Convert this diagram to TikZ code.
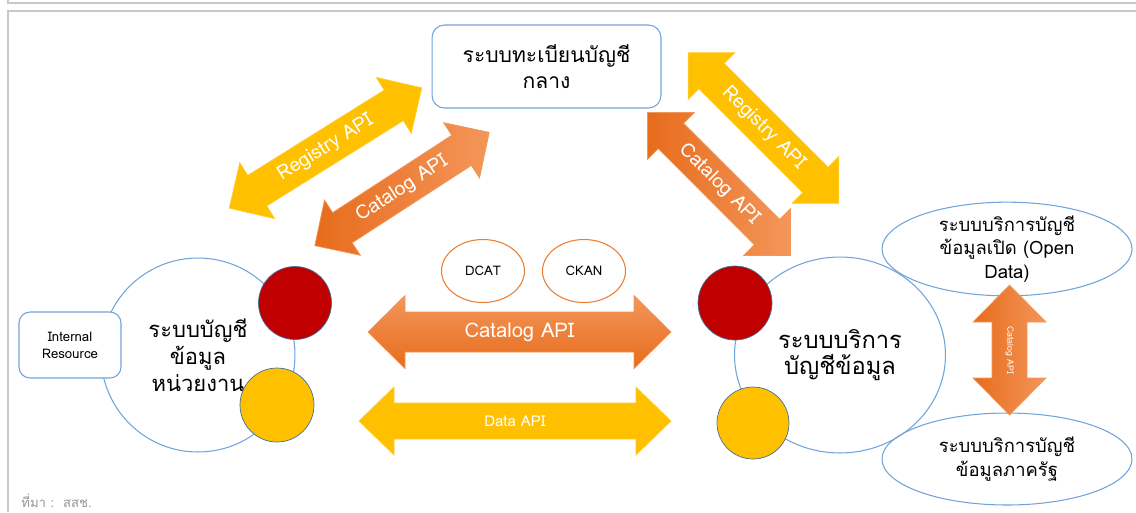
\documentclass[tikz,border=0pt]{standalone}
\usepackage{fontspec}
\setmainfont{Loma}[Script=Thai]
\usepackage{tikz}
\usetikzlibrary{shapes.geometric,positioning}
\definecolor{lineblue}{RGB}{112,163,217}
\definecolor{apiyellow}{RGB}{255,192,0}
\definecolor{apiorange}{RGB}{237,125,49}
\definecolor{orangelight}{RGB}{244,150,90}
\definecolor{orangedark}{RGB}{231,108,28}
\definecolor{dotred}{RGB}{192,0,0}
\definecolor{dotedge}{RGB}{65,113,156}
\definecolor{framegray}{RGB}{200,200,200}
\definecolor{notegray}{RGB}{150,150,150}

% double headed block arrow: center, angle, length, shaft, head, head length, style
\newcommand{\apiarrow}[7]{%
  \begin{scope}[shift={#1}, rotate=#2]
    \path[#7] ({-#3/2},0) -- ({-#3/2+#6},{#5/2}) -- ({-#3/2+#6},{#4/2})
      -- ({#3/2-#6},{#4/2}) -- ({#3/2-#6},{#5/2}) -- ({#3/2},0)
      -- ({#3/2-#6},{-#5/2}) -- ({#3/2-#6},{-#4/2}) -- ({-#3/2+#6},{-#4/2})
      -- ({-#3/2+#6},{-#5/2}) -- cycle;
  \end{scope}}

\begin{document}
\begin{tikzpicture}[x=0.02cm, y=-0.02cm]
    \tikzstyle{sysline}=[draw=lineblue, line width=0.6pt]
    \tikzstyle{sysbox}=[sysline, rectangle, fill=white, align=center]
    \tikzstyle{dot}=[circle, draw=dotedge, line width=0.4pt, inner sep=0pt]
    \tikzstyle{stdoval}=[ellipse, draw=apiorange, line width=0.6pt, inner sep=0pt,
        minimum width=1.66cm, minimum height=1.26cm, font=\fontsize{7.5}{9}\selectfont]
    \tikzstyle{yellowfill}=[fill=apiyellow, draw=apiyellow!80!white, line width=0.4pt]
    \tikzstyle{orangefill}=[draw=apiorange!80!white, line width=0.4pt]
    \tikzstyle{apilabel}=[white, inner sep=0pt]
    \useasboundingbox (0,0) rectangle (1136,512);

    % --- page frame ---
    \draw[framegray, line width=0.9pt] (8,0) -- (8,3) -- (1136,3);
    \draw[framegray, line width=0.9pt] (1136,11) -- (8,11) -- (8,512);

    % --- central registry ---
    \node[sysbox, rounded corners=0.25cm, minimum width=4.58cm, minimum height=1.66cm,
        font=\fontsize{12}{14.5}\selectfont] (registry) at (546.5,66.5) {ระบบทะเบียนบัญชี\\กลาง};

    % --- agency catalog (left) ---
    \node[sysline, circle, minimum size=3.88cm, align=center,
        font=\fontsize{12.5}{15.5}\selectfont] (agency) at (198,355) {ระบบบัญชี\\ข้อมูล\\หน่วยงาน};
    \node[sysbox, rounded corners=0.22cm, minimum width=2.04cm, minimum height=1.32cm,
        font=\fontsize{7.5}{9.7}\selectfont] (internal) at (70,345) {Internal\\Resource};
    \node[dot, fill=dotred, minimum size=1.46cm] (agencyred) at (295,303) {};
    \node[dot, fill=apiyellow, minimum size=1.48cm] (agencyyellow) at (277,405) {};

    % --- catalog service (right) ---
    \node[sysline, ellipse, minimum width=4.22cm, minimum height=3.92cm, align=center,
        font=\fontsize{13.5}{15}\selectfont] (service) at (840,355) {ระบบบริการ\\บัญชีข้อมูล};
    \node[dot, fill=dotred, minimum size=1.48cm] (servicered) at (735,303) {};
    \node[dot, fill=apiyellow, minimum size=1.44cm] (serviceyellow) at (753,423) {};

    \node[sysline, ellipse, minimum width=5cm, minimum height=1.84cm, align=center, inner sep=0pt,
        font=\fontsize{10.5}{13.3}\selectfont] (opendata) at (1007,249) {ระบบบริการบัญชี\\ข้อมูลเปิด (Open\\Data)};
    \node[sysline, ellipse, minimum width=5cm, minimum height=1.84cm, align=center, inner sep=0pt,
        font=\fontsize{10.5}{13.3}\selectfont] (govdata) at (1007,459) {ระบบบริการบัญชี\\ข้อมูลภาครัฐ};

    % --- standards ---
    \node[stdoval] (dcat) at (483,271) {DCAT};
    \node[stdoval] (ckan) at (584,271) {CKAN};

    % --- API arrows ---
    \apiarrow{(325.5,148)}{32}{227}{36}{66}{33}{yellowfill}
    \node[apilabel, rotate=32, font=\fontsize{11}{12}\selectfont] (regleft) at (325.5,148) {Registry API};
    \apiarrow{(402,189)}{33}{208}{36}{66}{33}{orangefill, left color=orangedark, right color=orangelight}
    \node[apilabel, rotate=33, font=\fontsize{11}{12}\selectfont] (catleft) at (402,189) {Catalog API};

    \apiarrow{(763.5,128)}{-45}{213}{36}{66}{33}{yellowfill}
    \node[apilabel, rotate=-45, font=\fontsize{11}{12}\selectfont] (regright) at (763.5,128) {Registry API};
    \apiarrow{(719,184)}{-45}{202}{36}{66}{33}{orangefill, left color=orangedark, right color=orangelight}
    \node[apilabel, rotate=-45, font=\fontsize{11}{12}\selectfont] (catright) at (719,184) {Catalog API};

    \apiarrow{(519.5,332)}{0}{303}{40}{73}{37}{orangefill, top color=orangelight, bottom color=orangedark}
    \node[apilabel, font=\fontsize{11.5}{13}\selectfont] (catmid) at (519.5,332) {Catalog API};
    \apiarrow{(515,421)}{0}{312}{36}{68}{35}{yellowfill}
    \node[apilabel, font=\fontsize{8.5}{10}\selectfont] (datamid) at (515,421) {Data API};

    \apiarrow{(1009.5,350)}{-90}{130}{35}{73}{37}{orangefill, left color=orangedark, right color=orangelight}
    \node[apilabel, rotate=-90, font=\fontsize{5}{6}\selectfont] (catopen) at (1009.5,350) {Catalog API};

    % --- source note ---
    \node[notegray, anchor=west, inner sep=0pt, font=\fontsize{7.5}{9}\selectfont] (source) at (21,501) {ที่มา :\ \ สสช.};
\end{tikzpicture}
\end{document}
